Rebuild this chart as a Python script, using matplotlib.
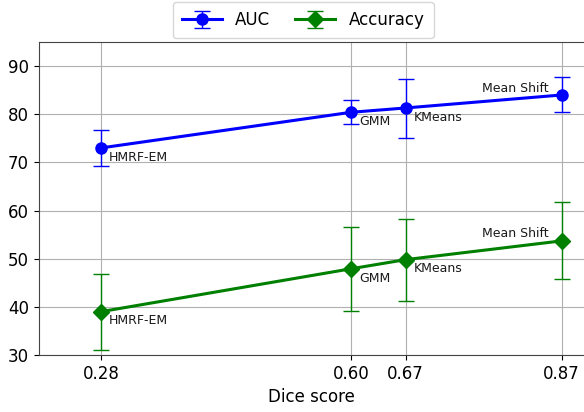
import matplotlib
matplotlib.use("Agg")
import matplotlib.pyplot as plt

dice = [0.28, 0.60, 0.67, 0.87]
methods = ["HMRF-EM", "GMM", "KMeans", "Mean Shift"]
auc = [73.0, 80.4, 81.3, 84.0]
auc_lo = [69.2, 78.0, 75.1, 80.4]
auc_hi = [76.7, 82.9, 87.3, 87.7]
acc = [39.0, 47.9, 49.8, 53.7]
acc_lo = [31.1, 39.2, 41.3, 45.7]
acc_hi = [46.8, 56.5, 58.3, 61.7]
xticks = [0.28, 0.60, 0.67, 0.87]
xticklabels = ["0.28", "0.60", "0.67", "0.87"]

fig = plt.figure(figsize=(5.84, 4.12), dpi=100)
ax = fig.add_axes([38.5 / 584, 1 - 355 / 412, 1.002 - 38.5 / 584, (355 - 42) / 412])

auc_err = [[a - l for a, l in zip(auc, auc_lo)], [h - a for a, h in zip(auc, auc_hi)]]
acc_err = [[a - l for a, l in zip(acc, acc_lo)], [h - a for a, h in zip(acc, acc_hi)]]

ax.errorbar(dice, auc, yerr=auc_err, color="blue", marker="o", markersize=8,
            linewidth=2.2, elinewidth=1, capsize=5.6, label="AUC", zorder=3)
ax.errorbar(dice, acc, yerr=acc_err, color="green", marker="D", markersize=8,
            linewidth=2.2, elinewidth=1, capsize=5.6, label="Accuracy", zorder=3)

offsets = [(5.8, -6.6), (6.2, -6.8), (6.0, -6.6), (-9.5, 5.0)]
aligns = ["left", "left", "left", "right"]
for ys in (auc, acc):
    for x, y, m, off, ha in zip(dice, ys, methods, offsets, aligns):
        ax.annotate(m, (x, y), xytext=off, textcoords="offset points",
                    ha=ha, va="center", fontsize=9, color="#1a1a1a")

ax.set_xlim(0.2, 0.9)
ax.set_ylim(30, 95)
ax.set_xticks(xticks)
ax.set_xticklabels(xticklabels)
ax.set_yticks([30, 40, 50, 60, 70, 80, 90])
ax.tick_params(labelsize=12)
ax.grid(True, color="#b0b0b0", linewidth=0.8)
ax.set_axisbelow(True)
ax.set_xlabel("Dice score", fontsize=12)
for s in ax.spines.values():
    s.set_color("#444444")

ax.legend(loc="center", ncol=2, fontsize=12, handlelength=2.4,
          columnspacing=1.5, borderpad=0.55,
          bbox_to_anchor=(303 / 584, 1 - 20 / 412), bbox_transform=fig.transFigure)

fig.savefig("out.png", dpi=100)
